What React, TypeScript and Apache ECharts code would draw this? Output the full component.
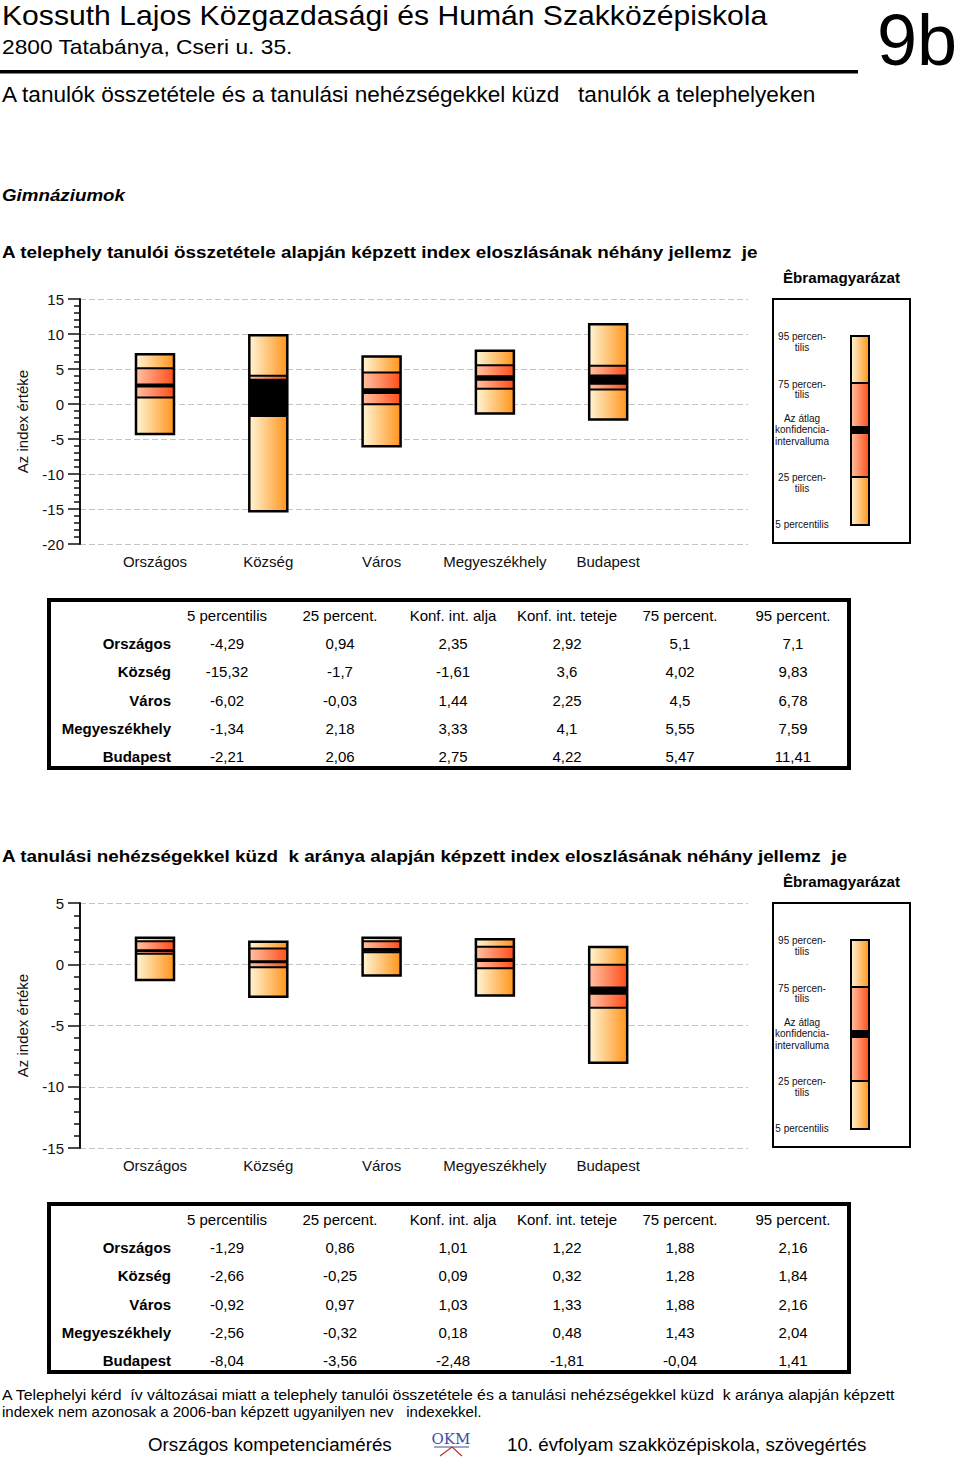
import React, { useEffect, useRef } from "react";
import * as echarts from "echarts";

const FONT = '"Liberation Sans", Arial, sans-serif';

const categories = ["Országos", "Község", "Város", "Megyeszékhely", "Budapest"];
const columnHeaders = ["5 percentilis", "25 percent.", "Konf. int. alja", "Konf. int. teteje", "75 percent.", "95 percent."];

// Chart 1: composition index
const c1P5 = [-4.29, -15.32, -6.02, -1.34, -2.21];
const c1P25 = [0.94, -1.7, -0.03, 2.18, 2.06];
const c1CLo = [2.35, -1.61, 1.44, 3.33, 2.75];
const c1CHi = [2.92, 3.6, 2.25, 4.1, 4.22];
const c1P75 = [5.1, 4.02, 4.5, 5.55, 5.47];
const c1P95 = [7.1, 9.83, 6.78, 7.59, 11.41];

// Chart 2: learning difficulties index
const c2P5 = [-1.29, -2.66, -0.92, -2.56, -8.04];
const c2P25 = [0.86, -0.25, 0.97, -0.32, -3.56];
const c2CLo = [1.01, 0.09, 1.03, 0.18, -2.48];
const c2CHi = [1.22, 0.32, 1.33, 0.48, -1.81];
const c2P75 = [1.88, 1.28, 1.88, 1.43, -0.04];
const c2P95 = [2.16, 1.84, 2.16, 2.04, 1.41];

const y1Min = -20, y1Max = 15;
const y2Min = -15, y2Max = 5;
const X_MIN = -0.662, X_MAX = 5.234;

const fmt = (v: number) => String(v).replace(".", ",");

const outerGrad = () =>
  new echarts.graphic.LinearGradient(0, 0, 1, 0, [
    { offset: 0, color: "#fff5d6" },
    { offset: 1, color: "#ff941c" },
  ]);
const midGrad = () =>
  new echarts.graphic.LinearGradient(0, 0, 1, 0, [
    { offset: 0, color: "#ffc2a4" },
    { offset: 1, color: "#ff4e18" },
  ]);

let measureCtx: CanvasRenderingContext2D | null = null;
function measure(text: string, size: number, bold: boolean, italic: boolean) {
  if (!measureCtx) measureCtx = document.createElement("canvas").getContext("2d");
  measureCtx!.font = `${italic ? "italic " : ""}${bold ? "bold " : ""}${size}px "Liberation Sans"`;
  return measureCtx!.measureText(text).width;
}

function txt(text: string, x: number, y: number, size: number, opts: any = {}) {
  const align = opts.align || "left";
  return {
    type: "text",
    x,
    y,
    scaleX: opts.scaleX || 1,
    silent: true,
    style: {
      text,
      x: 0,
      y: 0,
      fill: opts.color || "#000",
      fontSize: size,
      fontFamily: FONT,
      fontWeight: opts.bold ? "bold" : "normal",
      fontStyle: opts.italic ? "italic" : "normal",
      align,
      textAlign: align,
      verticalAlign: "middle",
      textVerticalAlign: "middle",
    },
  };
}

function fitText(text: string, x: number, y: number, width: number, size: number, opts: any = {}) {
  const w = measure(text, size, !!opts.bold, !!opts.italic);
  return txt(text, x, y, size, { ...opts, scaleX: w > 0 ? width / w : 1 });
}

function legend(dy: number) {
  const els: any[] = [];
  els.push(fitText("Êbramagyarázat", 783, 278 + dy, 117, 14, { bold: true }));
  els.push({
    type: "rect",
    shape: { x: 773, y: 299 + dy, width: 137, height: 244 },
    style: { fill: "none", stroke: "#000", lineWidth: 2 },
  });
  const bx = 851, bw = 18;
  const y95 = 336 + dy, y75 = 383 + dy, yc1 = 426 + dy, yc2 = 434 + dy, y25 = 477 + dy, y5 = 525 + dy;
  els.push({ type: "rect", shape: { x: bx, y: y95, width: bw, height: y75 - y95 }, style: { fill: outerGrad() } });
  els.push({ type: "rect", shape: { x: bx, y: y75, width: bw, height: y25 - y75 }, style: { fill: midGrad() } });
  els.push({ type: "rect", shape: { x: bx, y: y25, width: bw, height: y5 - y25 }, style: { fill: outerGrad() } });
  els.push({ type: "rect", shape: { x: bx, y: yc1, width: bw, height: yc2 - yc1 }, style: { fill: "#000" } });
  els.push({ type: "rect", shape: { x: bx, y: y95, width: bw, height: y5 - y95 }, style: { fill: "none", stroke: "#000", lineWidth: 2 } });
  els.push({ type: "line", shape: { x1: bx, y1: y75, x2: bx + bw, y2: y75 }, style: { stroke: "#000", lineWidth: 2 } });
  els.push({ type: "line", shape: { x1: bx, y1: y25, x2: bx + bw, y2: y25 }, style: { stroke: "#000", lineWidth: 2 } });
  const lx = 802;
  const lines: [string, number][] = [
    ["95 percen-", 336], ["tilis", 347],
    ["75 percen-", 384], ["tilis", 394],
    ["Az átlag", 418], ["konfidencia-", 429], ["intervalluma", 441],
    ["25 percen-", 477], ["tilis", 488],
    ["5 percentilis", 524],
  ];
  lines.forEach(([t, y]) => els.push(txt(t, lx, y + dy, 10, { align: "center", color: "#111" })));
  return els;
}

function table(dy: number, rows: number[][]) {
  const els: any[] = [];
  els.push({
    type: "rect",
    shape: { x: 49, y: 600 + dy, width: 800, height: 168 },
    style: { fill: "none", stroke: "#000", lineWidth: 4 },
  });
  const colX = [227, 340, 453, 567, 680, 793];
  columnHeaders.forEach((h, j) => els.push(txt(h, colX[j], 615 + dy, 15, { align: "center" })));
  const rowY = [643, 671.5, 700, 728, 756];
  categories.forEach((c, i) => {
    els.push(txt(c, 171, rowY[i] + dy, 15, { align: "right", bold: true }));
    rows.forEach((col, j) => els.push(txt(fmt(col[i]), colX[j], rowY[i] + dy, 15, { align: "center" })));
  });
  return els;
}

function makeRender(yMin: number) {
  return (params: any, api: any) => {
    const i = api.value(0);
    const yOf = (v: number) => api.coord([i, v])[1];
    const x = api.coord([i, 0])[0];
    const w = 38;
    const x0 = x - w / 2;
    const p5 = yOf(api.value(1)), p25 = yOf(api.value(2)), cl = yOf(api.value(3));
    const ch = yOf(api.value(4)), p75 = yOf(api.value(5)), p95 = yOf(api.value(6));
    const base = yOf(yMin);
    const label = categories[params.dataIndex];
    return {
      type: "group",
      children: [
        { type: "rect", shape: { x: x0, y: p25, width: w, height: p5 - p25 }, style: { fill: outerGrad() } },
        { type: "rect", shape: { x: x0, y: p75, width: w, height: p25 - p75 }, style: { fill: midGrad() } },
        { type: "rect", shape: { x: x0, y: p95, width: w, height: p75 - p95 }, style: { fill: outerGrad() } },
        { type: "rect", shape: { x: x0, y: ch, width: w, height: cl - ch }, style: { fill: "#000" } },
        { type: "line", shape: { x1: x0, y1: p25, x2: x0 + w, y2: p25 }, style: { stroke: "#000", lineWidth: 2 } },
        { type: "line", shape: { x1: x0, y1: p75, x2: x0 + w, y2: p75 }, style: { stroke: "#000", lineWidth: 2 } },
        { type: "rect", shape: { x: x0, y: p95, width: w, height: p5 - p95 }, style: { fill: "none", stroke: "#000", lineWidth: 2.5 } },
        {
          type: "text",
          style: {
            text: label, x, y: base + 17, fill: "#111", fontSize: 15, fontFamily: FONT,
            align: "center", textAlign: "center", verticalAlign: "middle", textVerticalAlign: "middle",
          },
        },
      ],
    };
  };
}

function yAxisCfg(gridIndex: number, min: number, max: number) {
  return {
    type: "value",
    gridIndex,
    min,
    max,
    interval: 5,
    name: "Az index értéke",
    nameLocation: "middle",
    nameRotate: 90,
    nameGap: 50,
    nameTextStyle: { fontSize: 15, fontFamily: FONT, color: "#111" },
    axisLine: { show: true, onZero: false, lineStyle: { color: "#111", width: 2 } },
    axisTick: { show: true, length: 12, lineStyle: { color: "#111", width: 1.5 } },
    minorTick: { show: true, splitNumber: 5, length: 6, lineStyle: { color: "#111", width: 1.5 } },
    axisLabel: { fontSize: 15, fontFamily: FONT, color: "#111", margin: 16 },
    splitLine: { show: true, lineStyle: { color: "#c4c4c4", type: [6, 3], width: 1 } },
  };
}

export default function App() {
  const ref = useRef<HTMLDivElement>(null);
  useEffect(() => {
    if (!ref.current) return;
    const chart = echarts.init(ref.current, null, { renderer: "svg", width: 960, height: 1460 });
    const data1 = categories.map((_, i) => [i, c1P5[i], c1P25[i], c1CLo[i], c1CHi[i], c1P75[i], c1P95[i]]);
    const data2 = categories.map((_, i) => [i, c2P5[i], c2P25[i], c2CLo[i], c2CHi[i], c2P75[i], c2P95[i]]);

    const graphics: any[] = [
      fitText("Kossuth Lajos Közgazdasági és Humán Szakközépiskola", 2, 15, 765, 28),
      fitText("2800 Tatabánya, Cseri u. 35.", 2, 47, 291, 20),
      txt("9b", 877, 40, 72),
      { type: "rect", shape: { x: 0, y: 70, width: 858, height: 3.5 }, style: { fill: "#000" } },
      fitText("A tanulók összetétele és a tanulási nehézségekkel küzd   tanulók a telephelyeken", 2, 95, 815, 22),
      fitText("Gimnáziumok", 2, 195, 123, 17, { bold: true, italic: true }),
      fitText("A telephely tanulói összetétele alapján képzett index eloszlásának néhány jellemz  je", 2, 252, 757, 17, { bold: true }),
      fitText("A tanulási nehézségekkel küzd  k aránya alapján képzett index eloszlásának néhány jellemz  je", 2, 856, 847, 17, { bold: true }),
      ...legend(0),
      ...legend(604),
      ...table(0, [c1P5, c1P25, c1CLo, c1CHi, c1P75, c1P95]),
      ...table(604, [c2P5, c2P25, c2CLo, c2CHi, c2P75, c2P95]),
      fitText("A Telephelyi kérd  ív változásai miatt a telephely tanulói összetétele és a tanulási nehézségekkel küzd  k aránya alapján képzett", 2, 1395, 895, 14),
      fitText("indexek nem azonosak a 2006-ban képzett ugyanilyen nev   indexekkel.", 2, 1412, 480, 14),
      fitText("Országos kompetenciamérés", 148, 1444, 244, 19),
      fitText("10. évfolyam szakközépiskola, szövegértés", 507, 1444, 360, 19),
      {
        type: "text",
        x: 451,
        y: 1439,
        silent: true,
        style: {
          text: "OKM", fill: "#3a4fa0", fontSize: 15, fontFamily: "DejaVu Serif, serif",
          align: "center", textAlign: "center", verticalAlign: "middle", textVerticalAlign: "middle",
        },
      },
      { type: "line", shape: { x1: 434, y1: 1447, x2: 469, y2: 1447 }, style: { stroke: "#3a4fa0", lineWidth: 1.2 } },
      { type: "polyline", shape: { points: [[440, 1456], [452, 1447], [462, 1456]] }, style: { stroke: "#c03030", fill: "none", lineWidth: 1.2 } },
    ];

    chart.setOption({
      animation: false,
      backgroundColor: "#ffffff",
      grid: [
        { left: 80, top: 299, width: 668, height: 245 },
        { left: 80, top: 903, width: 668, height: 245 },
      ],
      xAxis: [
        { type: "value", gridIndex: 0, min: X_MIN, max: X_MAX, show: false },
        { type: "value", gridIndex: 1, min: X_MIN, max: X_MAX, show: false },
      ],
      yAxis: [yAxisCfg(0, y1Min, y1Max), yAxisCfg(1, y2Min, y2Max)],
      series: [
        {
          type: "custom",
          xAxisIndex: 0,
          yAxisIndex: 0,
          data: data1,
          encode: { x: 0, y: [1, 2, 3, 4, 5, 6] },
          renderItem: makeRender(y1Min),
          clip: false,
        },
        {
          type: "custom",
          xAxisIndex: 1,
          yAxisIndex: 1,
          data: data2,
          encode: { x: 0, y: [1, 2, 3, 4, 5, 6] },
          renderItem: makeRender(y2Min),
          clip: false,
        },
      ],
      graphic: graphics,
    });
    return () => chart.dispose();
  }, []);
  return (
    <div
      ref={ref}
      style={{ position: "absolute", left: 0, top: 0, width: 960, height: 1460, background: "#fff" }}
    />
  );
}
